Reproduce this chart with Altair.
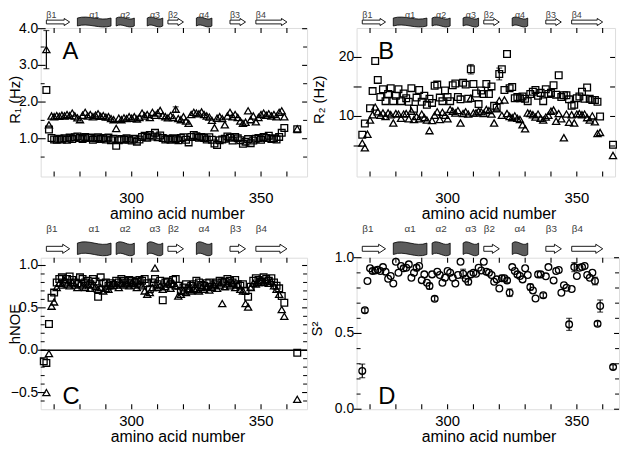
import altair as alt
import pandas as pd

FONT = "Liberation Sans"

# ---------------- data ----------------
residue = list(range(266, 360)) + [364]

r1_sq = [None, 2.33, 1.25, 1.02, 0.98, 0.97, 1.00, 0.98, 1.01, 0.97,
         1.03, 0.99, 1.04, 1.06, 1.02, 0.99, 1.05, 1.02, 1.03, 0.97,
         1.01, 1.04, 0.99, 1.02, 0.98, 1.03, 0.96, 1.00, 0.81, 0.96,
         0.99, 0.97, 1.01, 0.98, 0.95, 1.00, 0.92, 0.98, 1.05, 1.08,
         1.03, 1.10, 1.06, 1.16, 1.04, 1.09, 1.02, 0.98, 1.00, 0.97,
         1.01, 0.99, 0.96, 1.02, 1.04, 0.97, 0.90, 1.05, 1.10, 1.07,
         1.03, 1.05, 1.02, 0.98, 1.04, 0.97, 0.87, 0.83, 0.96, 0.98,
         1.00, 1.06, 1.03, 0.95, 1.05, 1.01, 0.96, 0.86, 0.92, 0.99,
         0.88, 0.95, 1.00, 1.02, 0.97, 1.05, 1.02, 1.08, 0.99, 1.01,
         0.98, 1.05, 1.16, 1.29,
         1.26]
r1_tri = [None, 3.43, 1.38, 1.62, 1.60, 1.63, 1.61, 1.64, 1.62, 1.66,
          1.63, 1.70, 1.62, 1.57, 1.52, 1.64, 1.72, 1.62, 1.66, 1.60,
          1.64, 1.68, 1.61, 1.63, 1.59, 1.60, 1.55, 1.52, 1.28, 1.56,
          1.52, 1.57, 1.55, 1.60, 1.56, 1.60, 1.54, 1.58, 1.70, 1.62,
          1.66, 1.58, 1.72, 1.64, 1.70, 1.77, 1.63, 1.60, 1.57, 1.63,
          1.58, 1.80, 1.55, 1.52, 1.60, 1.48, 1.42, 1.66, 1.72, 1.70,
          1.68, 1.73, 1.66, 1.62, 1.59, 1.50, 1.30, 1.56, 1.60, 1.55,
          1.38, 1.62, 1.72, 1.60, 1.66, 1.58, 1.48, 1.42, 1.45, 1.76,
          1.52, 1.62, 1.46, 1.58, 1.66, 1.70, 1.64, 1.68, 1.62, 1.66,
          1.60, 1.72, 1.76, 1.60,
          1.27]
r1_err_res = [267, 317]
r1_err_tri = [0.52, 0.07]

r2_sq = [None, 6.9, 8.8, None, 11.4, 14.3, 19.4, 16.2, 13.3, 14.6,
         12.6, 13.8, 14.8, 12.6, 13.5, 14.6, 12.6, 13.9, 13.1, 12.5,
         14.8, 11.3, 13.2, 14.5, 12.5, 13.5, 12.0, 13.0, 12.3, 15.2,
         15.4, 13.2, 12.6, 14.4, 13.3, 12.6, 15.3, 15.6, 13.3, 12.9,
         15.7, 15.4, 13.0, 18.0, 15.5, 13.9, 12.1, 14.4, 13.8, 15.5,
         13.8, 15.1, 11.8, 11.5, 17.2, 18.0, 14.5, 20.6, 14.8, 15.0,
         13.1, 13.3, 13.1, 13.4, 13.0, 12.6, 13.8, 14.2, 14.5, 13.5,
         14.0, 12.6, 14.6, 13.8, 14.0, 15.3, 13.7, 17.0, 13.3, 13.6,
         13.6, 12.9, 11.8, 12.0, 13.1, 13.4, 14.2, 13.0, 14.9, 13.0,
         12.8, 12.8, 12.5, 10.0,
         5.2]
r2_tri = [None, 5.5, 4.7, 7.0, 9.4, 10.3, 11.6, 10.8, 10.2, 10.6,
          10.0, 10.6, 10.3, 8.9, 10.5, 10.4, 9.7, 10.4, 10.5, 9.6,
          10.9, 9.5, 10.0, 9.6, 10.4, 9.8, 9.4, 7.6, 9.3, 10.2,
          10.8, 9.5, 10.7, 10.2, 9.6, 11.2, 10.9, 10.6, 11.0, 8.9,
          10.5, 10.8, 10.4, 13.1, 10.6, 10.6, 10.9, 10.8, 10.5, 11.2,
          11.0, 10.4, 8.9, 11.3, 12.7, 10.2, 12.8, 10.5, 10.0, 9.8,
          10.1, 9.7, 9.5, 8.6, 7.9, 10.6, 10.5, 10.3, 9.9, 10.4,
          9.7, 9.4, 9.9, 10.2, 10.9, 11.1, 9.2, 10.5, 9.6, 6.4,
          10.4, 9.0, 10.3, 8.9, 10.4, 10.5, 10.3, 10.4, 9.8, 9.4,
          10.1, 9.1, 7.1, 7.3,
          3.4]
r2_err_res = [309, 320]
r2_err_sq = [0.8, 1.0]

noe_sq = [-0.13, -0.15, 0.31, 0.62, 0.68, 0.80, 0.84, 0.86, 0.80, 0.84,
          0.87, 0.83, 0.80, 0.79, 0.86, 0.84, 0.80, 0.82, 0.78, 0.84,
          0.81, 0.63, 0.86, 0.79, 0.80, 0.76, 0.79, 0.77, 0.82, 0.80,
          0.84, 0.82, 0.80, 0.83, 0.82, 0.80, 0.81, 0.83, 0.82, 0.84,
          0.79, 0.72, 0.80, 0.84, 0.78, 0.82, 0.59, 0.80, 0.81, 0.78,
          0.83, 0.84, 0.76, 0.70, 0.74, 0.78, 0.73, 0.76, 0.78, 0.82,
          0.80, 0.77, 0.76, 0.79, 0.80, 0.75, 0.78, 0.80, 0.82, 0.80,
          0.81, 0.84, 0.82, 0.80, 0.83, 0.78, 0.76, 0.78, 0.70, 0.63,
          0.75, 0.82, 0.85, 0.83, 0.81, 0.86, 0.84, 0.82, 0.85, 0.80,
          0.76, 0.73, 0.64, 0.56,
          -0.03]
noe_tri = [None, -0.50, -0.04, 0.52, 0.57, 0.74, 0.79, 0.77, 0.82, 0.78,
           0.76, 0.80, 0.77, 0.74, 0.78, 0.76, 0.74, 0.78, 0.73, 0.77,
           0.75, 0.72, 0.74, 0.70, 0.73, 0.72, 0.76, 0.79, 0.77, 0.74,
           0.79, 0.77, 0.78, 0.76, 0.79, 0.77, 0.74, 0.78, 0.76, 0.70,
           0.66, 0.68, 0.74, 0.97, 0.74, 0.76, 0.72, 0.75, 0.78, 0.73,
           0.79, 0.76, 0.64, 0.66, 0.70, 0.68, 0.72, 0.70, 0.73, 0.72,
           0.70, 0.74, 0.72, 0.75, 0.71, 0.74, 0.76, 0.73, 0.77, 0.55,
           0.75, 0.78, 0.76, 0.79, 0.74, 0.77, 0.72, 0.70, 0.55, 0.51,
           0.74, 0.79, 0.78, 0.80, 0.82, 0.80, 0.83, 0.79, 0.81, 0.76,
           0.72, 0.66, 0.48, 0.40,
           -0.58]

s2 = [None, 0.253, 0.653, 0.846, 0.93, 0.912, 0.916, 0.92, 0.912, 0.938,
      0.908, 0.861, 0.879, 0.83, 0.973, 0.901, 0.945, 0.93, 0.934, 0.956,
      0.868, 0.901, 0.934, 0.945, 0.852, 0.89, 0.835, 0.813, 0.89, 0.729,
      0.908, 0.886, 0.835, 0.868, 0.912, 0.901, 0.868, 0.83, 0.886, 0.973,
      0.894, 0.861, 0.841, 0.89, 0.901, 0.894, 0.934, 0.916, 0.973, 0.908,
      0.901, 0.886, 0.841, 0.857, 0.797, 0.864, 0.864, 0.85, 0.769, 0.938,
      0.912, 0.89, 0.879, 0.857, 0.93, 0.886, 0.806, 0.784, 0.731, 0.89,
      0.89, 0.752, 0.877, 0.938, None, 0.85, 0.912, 0.919, 0.769, 0.819,
      0.802, 0.56, 0.793, 0.938, 0.879, 0.934, 0.938, 0.945, 0.886, 0.868,
      0.901, 0.846, 0.564, 0.681,
      0.278]
s2_err_res = [267, 268, 271, 288, 293, 295, 306, 308, 321, 323, 324, 332, 337,
              347, 349, 357, 358, 359, 364]
s2_err = [0.045, 0.015, 0.015, 0.02, 0.02, 0.015, 0.03, 0.02, 0.02, 0.015, 0.025,
          0.02, 0.015, 0.04, 0.03, 0.025, 0.015, 0.04, 0.015]

# secondary structure
ss_name = ["β1", "α1", "α2", "α3", "β2", "α4", "β3", "β4"]
ss_start = [267, 279, 294, 306, 314, 325, 338, 348]
ss_end = [276, 292, 301, 312, 320, 331, 344, 360]

# axis ticks / labels
x_ticks = [270, 280, 290, 300, 310, 320, 330, 340, 350, 360]
x_labels = [300, 350]
x_title = "amino acid number"
r1_major = [1, 2, 3, 4]
r1_minor = [0.5, 1.5, 2.5, 3.5]
r2_major = [5, 10, 15, 20]
r2_labels = [10, 20]
noe_major = [-0.5, 0.0, 0.5, 1.0]
noe_minor = [-0.6, -0.4, -0.3, -0.2, -0.1, 0.1, 0.2, 0.3, 0.4, 0.6, 0.7, 0.8, 0.9]
s2_major = [0.0, 0.5, 1.0]
s2_minor = [0.1, 0.2, 0.3, 0.4, 0.6, 0.7, 0.8, 0.9]

# ---------------- helpers ----------------
ROWS = {
    "top": dict(lab_y=-13.5, lab_fs=9, cy=-6, helix_h=8, head_half=3.6,
                body_half=1.9, head_len=5.5, wave=3.5, xly=21.5, xty=42.5),
    "bottom": dict(lab_y=-28.8, lab_fs=10, cy=-9, helix_h=11.5, head_half=4.6,
                   body_half=2.5, head_len=7, wave=4.5, xly=12, xty=32.8),
}


def helix_path(w, h, c_px):
    hh = h / w
    c = c_px / (w / 2.0)
    return (f"M-1,{-hh:.3f} C-0.33,{-hh - c:.3f} 0.33,{-hh + c:.3f} 1,{-hh:.3f} "
            f"L1,{hh:.3f} C0.33,{hh + c:.3f} -0.33,{hh - c:.3f} -1,{hh:.3f} Z")


def head_path(length, half, body):
    b = body / length
    h = half / length
    return f"M-0.05,{-b:.3f} L0,{-b:.3f} L0,{-h:.3f} L1,0 L0,{h:.3f} L0,{b:.3f} L-0.05,{b:.3f}"


def strip_layers(xs, ppr, row):
    p = ROWS[row]
    df = pd.DataFrame({"name": ss_name, "start": ss_start, "end": ss_end})
    df["mid"] = (df["start"] + df["end"]) / 2.0
    strand = df["name"].str.startswith("β")
    st = df[strand].copy()
    hx = df[~strand].copy()
    hx["wpx"] = (hx["end"] - hx["start"]) * ppr
    hx["shape"] = [helix_path(w, p["helix_h"], p["wave"]) for w in hx["wpx"]]
    hx["size"] = hx["wpx"] ** 2
    X = lambda f: alt.X(f, scale=xs, axis=None)
    body = alt.Chart(st).mark_rect(
        fill="white", stroke="black", strokeWidth=0.9, x2Offset=-(p["head_len"] - 1.2)
    ).encode(x=X("start:Q"), x2="end:Q",
             y=alt.value(p["cy"] - p["body_half"]), y2=alt.value(p["cy"] + p["body_half"]))
    head = alt.Chart(st).mark_point(
        shape=head_path(p["head_len"], p["head_half"], p["body_half"]),
        size=(2 * p["head_len"]) ** 2, filled=True, fill="white", stroke="black",
        strokeWidth=0.9, opacity=1, xOffset=-p["head_len"]
    ).encode(x=X("end:Q"), y=alt.value(p["cy"]))
    helix = alt.Chart(hx).mark_point(
        filled=True, fill="#5c5c5c", stroke="black", strokeWidth=0.8, opacity=1
    ).encode(x=X("mid:Q"), y=alt.value(p["cy"]),
             shape=alt.Shape("shape:N", scale=None), size=alt.Size("size:Q", scale=None))
    lab_b = alt.Chart(st).mark_text(
        align="left", baseline="middle", font=FONT, fontSize=p["lab_fs"], color="#404040"
    ).encode(x=X("start:Q"), y=alt.value(p["lab_y"]), text="name:N")
    lab_a = alt.Chart(hx).mark_text(
        align="center", baseline="middle", font=FONT, fontSize=p["lab_fs"], color="#404040"
    ).encode(x=X("mid:Q"), y=alt.value(p["lab_y"]), text="name:N")
    return [body, head, helix, lab_b, lab_a]


def tick_layers(cfg, xs, ys):
    W, H = cfg["w"], cfg["h"]
    out = []
    xt = pd.DataFrame({"t": x_ticks})
    X = alt.X("t:Q", scale=xs, axis=None)
    out.append(alt.Chart(xt).mark_rule(color="black", strokeWidth=1.1).encode(
        x=X, y=alt.value(H - 5), y2=alt.value(H)))
    out.append(alt.Chart(xt).mark_rule(color="black", strokeWidth=1.1).encode(
        x=X, y=alt.value(0), y2=alt.value(5)))
    Y = alt.Y("t:Q", scale=ys, axis=None)
    ymaj = pd.DataFrame({"t": cfg["ymaj"]})
    out.append(alt.Chart(ymaj).mark_rule(color="black", strokeWidth=1.1).encode(
        y=Y, x=alt.value(-3), x2=alt.value(5)))
    out.append(alt.Chart(ymaj).mark_rule(color="black", strokeWidth=1.1).encode(
        y=Y, x=alt.value(W - 5), x2=alt.value(W)))
    if cfg["ymin"]:
        ymin = pd.DataFrame({"t": cfg["ymin"]})
        out.append(alt.Chart(ymin).mark_rule(color="black", strokeWidth=1.0).encode(
            y=Y, x=alt.value(0), x2=alt.value(4)))
        out.append(alt.Chart(ymin).mark_rule(color="black", strokeWidth=1.0).encode(
            y=Y, x=alt.value(W - 4), x2=alt.value(W)))
    return out


def label_layers(cfg, xs, ys):
    H = cfg["h"]
    row = ROWS[cfg["row"]]
    out = []
    out.append(alt.Chart(pd.DataFrame({"t": x_labels})).mark_text(
        align="center", baseline="middle", font=FONT, fontSize=15, color="black").encode(
        x=alt.X("t:Q", scale=xs, axis=None), y=alt.value(H + row["xly"]),
        text=alt.Text("t:Q", format="d")))
    out.append(alt.Chart(pd.DataFrame({"t": [x_title]})).mark_text(
        align="center", baseline="alphabetic", font=FONT, fontSize=16, color="black").encode(
        x=alt.value(cfg["xtx"]), y=alt.value(H + row["xty"]), text="t:N"))
    out.append(alt.Chart(pd.DataFrame({"t": cfg["ylab"]})).mark_text(
        align="right", baseline="middle", font=FONT, fontSize=14, color="black").encode(
        y=alt.Y("t:Q", scale=ys, axis=None), x=alt.value(-2.5),
        text=alt.Text("t:Q", format=cfg["fmt"])))
    out.append(alt.Chart(pd.DataFrame({"t": [cfg["ytitle"]]})).mark_text(
        align="center", baseline="middle", font=FONT, fontSize=15, color="black", angle=270).encode(
        x=alt.value(cfg["tx"]), y=alt.value(cfg["ty"]), text="t:N"))
    out.append(alt.Chart(pd.DataFrame({"t": [cfg["letter"]]})).mark_text(
        align="left", baseline="alphabetic", font=FONT, fontSize=24, color="black").encode(
        text="t:N", x=alt.value(22), y=alt.value(cfg["ly"])))
    return out


def err_layers(vals, eres, evals, xs, ys):
    lookup = dict(zip(residue, vals))
    df = pd.DataFrame({"res": eres, "e": evals})
    df["v"] = [lookup[r] for r in eres]
    df["lo"] = df["v"] - df["e"]
    df["hi"] = df["v"] + df["e"]
    X = alt.X("res:Q", scale=xs, axis=None)
    rule = alt.Chart(df).mark_rule(color="black", strokeWidth=1.2).encode(
        x=X, y=alt.Y("lo:Q", scale=ys, axis=None), y2="hi:Q")
    c1 = alt.Chart(df).mark_tick(orient="horizontal", size=6, thickness=1.2, color="black").encode(
        x=X, y=alt.Y("lo:Q", scale=ys, axis=None))
    c2 = alt.Chart(df).mark_tick(orient="horizontal", size=6, thickness=1.2, color="black").encode(
        x=X, y=alt.Y("hi:Q", scale=ys, axis=None))
    return [rule, c1, c2]


SHAPES = {"square": 46, "triangle-up": 52, "circle": 46}


def panel(cfg):
    W, H = cfg["w"], cfg["h"]
    xs = alt.Scale(domain=cfg["xdom"], zero=False, nice=False)
    ys = alt.Scale(domain=cfg["ydom"], zero=False, nice=False)
    ppr = W / (cfg["xdom"][1] - cfg["xdom"][0])
    layers = []
    if cfg.get("zero"):
        layers.append(alt.Chart(pd.DataFrame({"z": [0.0]})).mark_rule(
            color="black", strokeWidth=1.4).encode(y=alt.Y("z:Q", scale=ys, axis=None)))
    for vals, shape in cfg["series"]:
        df = pd.DataFrame({"res": residue, "v": vals}).dropna()
        layers.append(alt.Chart(df).mark_point(
            shape=shape, size=SHAPES[shape], filled=False, color="black",
            strokeWidth=1.3, opacity=1).encode(
            x=alt.X("res:Q", scale=xs, axis=None),
            y=alt.Y("v:Q", scale=ys, axis=None)))
    for vals, eres, evals in cfg.get("errs", []):
        layers += err_layers(vals, eres, evals, xs, ys)
    layers += tick_layers(cfg, xs, ys)
    layers += strip_layers(xs, ppr, cfg["row"])
    layers += label_layers(cfg, xs, ys)
    return alt.layer(*layers).properties(width=W, height=H)


A = dict(w=269, h=150, xdom=[264.8, 367.8], ydom=[-0.03, 4.02], ymaj=r1_major, ymin=r1_minor,
         ylab=r1_major, fmt=".1f", ytitle="R\u2081 (Hz)", tx=-25.5, ty=72.5, letter="A", ly=31,
         row="top", xtx=138, series=[(r1_tri, "triangle-up"), (r1_sq, "square")],
         errs=[(r1_tri, r1_err_res, r1_err_tri)])
B = dict(w=261, h=150, xdom=[264.8, 364.8], ydom=[-0.17, 25.0], ymaj=r2_major, ymin=[],
         ylab=r2_labels, fmt="d", ytitle="R\u2082 (Hz)", tx=-37.5, ty=72.5, letter="B", ly=31,
         row="top", xtx=133.7, series=[(r2_tri, "triangle-up"), (r2_sq, "square")],
         errs=[(r2_sq, r2_err_res, r2_err_sq)])
C = dict(w=269, h=153, xdom=[264.8, 367.8], ydom=[-0.697, 1.092], ymaj=noe_major, ymin=noe_minor,
         ylab=noe_major, fmt=".1f", ytitle="hNOE", tx=-25.5, ty=67, letter="C", ly=148,
         row="bottom", xtx=138.7, zero=True, series=[(noe_tri, "triangle-up"), (noe_sq, "square")])
D = dict(w=265, h=153, xdom=[264.8, 366.3], ydom=[0.0, 1.0], ymaj=s2_major, ymin=s2_minor,
         ylab=s2_major, fmt=".1f", ytitle="S\u00b2", tx=-40, ty=72, letter="D", ly=148,
         row="bottom", xtx=133.7, series=[(s2, "circle")], errs=[(s2, s2_err_res, s2_err)])

chart = alt.concat(panel(A), panel(B), panel(C), panel(D), columns=2,
                   spacing={"row": 82, "column": 50}, bounds="flush").properties(
    padding={"left": 0, "top": 0, "right": 0, "bottom": 0}
).configure_view(stroke="black", strokeWidth=1.5).configure(font=FONT)

chart.save("out.html", embed_options={"renderer": "svg", "actions": False})
